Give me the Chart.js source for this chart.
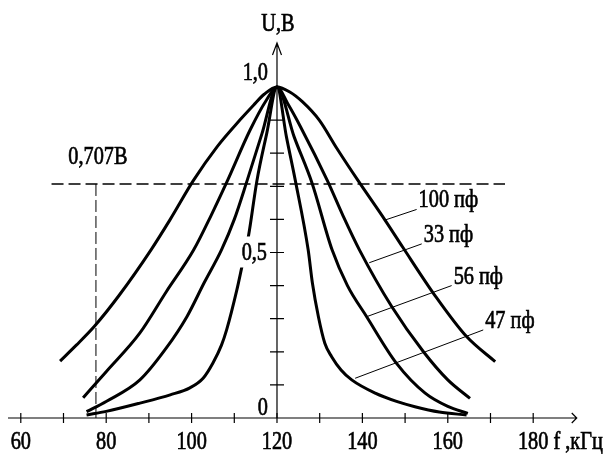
<!DOCTYPE html>
<html>
<head>
<meta charset="utf-8">
<script src="https://cdn.jsdelivr.net/npm/chart.js@4"></script>
<style>
  html, body { margin: 0; padding: 0; background: #fff; }
  canvas { display: block; }
</style>
</head>
<body>
<canvas id="chart" width="608" height="454"></canvas>
<script>
// frequency, kHz / voltage, V
const f100 = [69.2, 73, 77.3, 83, 90.5, 95, 100.4, 106, 111.3, 114.5, 117, 120, 123, 126, 129.9, 134, 139, 145.3, 149.5, 157, 164.4, 171.1];
const u100 = [0.172, 0.22, 0.278, 0.37, 0.508, 0.6, 0.717, 0.82, 0.9, 0.945, 0.978, 1.0, 0.985, 0.955, 0.9, 0.815, 0.717, 0.598, 0.515, 0.37, 0.246, 0.17];

const f33 = [74.6, 80, 87.9, 94, 100.5, 104.5, 108.4, 113.7, 117.5, 120, 122.5, 125.5, 131.8, 135.5, 139.3, 146.9, 154.3, 160, 165.2];
const u33 = [0.061, 0.14, 0.257, 0.38, 0.508, 0.61, 0.717, 0.87, 0.96, 1.0, 0.95, 0.88, 0.717, 0.61, 0.508, 0.336, 0.2, 0.115, 0.059];

const f56 = [75.4, 80, 87.9, 94, 98.9, 103, 107, 110, 113, 116.5, 120, 124, 128.2, 132.9, 136.5, 141, 148, 154.7, 160, 164.7];
const u56 = [0.019, 0.05, 0.115, 0.21, 0.306, 0.41, 0.508, 0.6, 0.717, 0.86, 1.0, 0.85, 0.71, 0.508, 0.4, 0.306, 0.165, 0.075, 0.035, 0.014];

const f47 = [75.4, 80, 87.9, 95, 99.6, 102.7, 105, 107, 108.2, 110.6, 111.7, 113.3, 115.3, 117.6, 120, 122.2, 124.3, 127.3, 128.3, 129.7, 131.2, 132.8, 135, 137.5, 143, 148, 152.3, 158, 164.4];
const u47 = [0.009, 0.02, 0.045, 0.07, 0.091, 0.12, 0.166, 0.22, 0.266, 0.387, 0.452, 0.548, 0.717, 0.86, 1.0, 0.85, 0.717, 0.508, 0.407, 0.306, 0.226, 0.185, 0.145, 0.115, 0.075, 0.05, 0.034, 0.018, 0.009];

const xTicks = [60, 70, 80, 90, 100, 110, 120, 130, 140, 150, 160, 170, 180];
const xLabels = [60, 80, 100, 120, 140, 160, 180];
const yTicks = [0.1, 0.2, 0.3, 0.4, 0.5, 0.6, 0.7, 0.8, 0.9];
const level = 0.707;      // 0,707 В
const levelFreq = 77.6;   // where the dashed drop line sits

// curve labels: text, label anchor (f, U), point on the curve (f, U)
const curveLabels = ['100 пф', '33 пф', '56 пф', '47 пф'];
const labelFrom = [[152.7, 0.63], [153.9, 0.526], [160.9, 0.4], [168.3, 0.266]];
const labelTo = [[145.3, 0.598], [141.6, 0.469], [141.0, 0.306], [138.3, 0.12]];

const pts = (fs, us) => fs.map((f, i) => ({ x: f, y: us[i] }));

const FONT = '26px "Liberation Serif", "Times New Roman", serif';
const SX = 0.78; // glyphs in the picture are narrow and tall

function txt(ctx, s, x, y, align) {
  ctx.save();
  ctx.translate(x, y);
  ctx.scale(SX, 1);
  ctx.textAlign = align || 'left';
  ctx.textBaseline = 'alphabetic';
  ctx.lineWidth = 0.7;
  ctx.strokeStyle = '#000';
  ctx.fillText(s, 0, 0);
  ctx.strokeText(s, 0, 0);
  ctx.restore();
}

const sketch = {
  id: 'sketch',
  beforeDatasetsDraw(chart) {
    const ctx = chart.ctx;
    const xs = chart.scales.x, ys = chart.scales.y;
    const X = v => xs.getPixelForValue(v), Y = v => ys.getPixelForValue(v);
    ctx.save();
    ctx.strokeStyle = '#000';
    ctx.lineWidth = 1.2;

    // x axis with arrow
    const y0 = Y(0);
    ctx.beginPath();
    ctx.moveTo(X(57), y0); ctx.lineTo(X(190.2), y0);
    ctx.moveTo(X(190.2) - 5, y0 - 5); ctx.lineTo(X(190.2), y0); ctx.lineTo(X(190.2) - 5, y0 + 5);
    xTicks.forEach(t => { ctx.moveTo(X(t), y0 - 5); ctx.lineTo(X(t), y0 + 5); });
    ctx.stroke();

    // y axis with arrow
    const x0 = X(120);
    ctx.beginPath();
    ctx.moveTo(x0, y0); ctx.lineTo(x0, Y(1.133));
    ctx.moveTo(x0 - 4.5, Y(1.133) + 12); ctx.lineTo(x0, Y(1.133)); ctx.lineTo(x0 + 4.5, Y(1.133) + 12);
    yTicks.forEach(t => { ctx.moveTo(x0 - 7, Y(t)); ctx.lineTo(x0 + 7, Y(t)); });
    ctx.stroke();

    // 0,707 level
    ctx.lineWidth = 1.5;
    ctx.setLineDash([12, 5]);
    ctx.beginPath();
    ctx.moveTo(X(67.2), Y(level)); ctx.lineTo(X(173.4), Y(level));
    ctx.stroke();
    ctx.lineWidth = 1;
    ctx.setLineDash([12, 4]);
    ctx.beginPath();
    ctx.moveTo(X(levelFreq), Y(level)); ctx.lineTo(X(levelFreq), y0);
    ctx.stroke();
    ctx.setLineDash([]);

    // leader lines
    ctx.lineWidth = 1;
    ctx.beginPath();
    labelFrom.forEach((p, i) => {
      ctx.moveTo(X(p[0]), Y(p[1]));
      ctx.lineTo(X(labelTo[i][0]), Y(labelTo[i][1]));
    });
    ctx.stroke();
    ctx.restore();
  },
  afterDatasetsDraw(chart) {
    const ctx = chart.ctx;
    const xs = chart.scales.x, ys = chart.scales.y;
    const X = v => xs.getPixelForValue(v), Y = v => ys.getPixelForValue(v);
    ctx.save();
    ctx.font = FONT;
    ctx.fillStyle = '#000';

    // x tick labels
    const yl = Y(0) + 31;
    xLabels.forEach(t => {
      if (t === 180) {
        const w = ctx.measureText('180').width * SX;
        txt(ctx, '180 f ,кГц', X(t) - w / 2, yl, 'left');
      } else {
        txt(ctx, String(t), X(t), yl, 'center');
      }
    });

    // y labels
    const x0 = X(120);
    txt(ctx, '1,0', x0 - 9, Y(1.0) - 7, 'right');
    // the 0,5 label sits on a white patch that breaks the 47 пф curve
    ctx.fillStyle = '#fff';
    ctx.fillRect(x0 - 37, Y(0.5) - 16, 28, 31);
    ctx.fillStyle = '#000';
    txt(ctx, '0,5', x0 - 10, Y(0.5) + 8, 'right');
    txt(ctx, '0', x0 - 9, Y(0) - 3, 'right');
    txt(ctx, 'U,В', x0 + 1, Y(1.133) - 12, 'center');

    // level label
    txt(ctx, '0,707В', X(levelFreq) + 2, Y(level) - 20, 'center');

    // curve labels
    curveLabels.forEach((s, i) => {
      txt(ctx, s, X(labelFrom[i][0]) + 2, Y(labelFrom[i][1]) - 2, 'left');
    });
    ctx.restore();
  }
};

const curve = (label, data) => ({
  label,
  data,
  borderColor: '#000',
  borderWidth: 3,
  pointRadius: 0,
  fill: false,
  cubicInterpolationMode: 'monotone'
});

new Chart(document.getElementById('chart').getContext('2d'), {
  type: 'line',
  data: {
    datasets: [
      curve('100 пф', pts(f100, u100)),
      curve('33 пф', pts(f33, u33)),
      curve('56 пф', pts(f56, u56)),
      curve('47 пф', pts(f47, u47))
    ]
  },
  options: {
    responsive: false,
    animation: false,
    devicePixelRatio: 1,
    layout: { padding: 0 },
    plugins: { legend: { display: false }, tooltip: { enabled: false } },
    scales: {
      x: { type: 'linear', min: 55.13, max: 197.52, display: false },
      y: { type: 'linear', min: -0.1088, max: 1.2628, display: false }
    }
  },
  plugins: [sketch]
});
</script>
</body>
</html>
